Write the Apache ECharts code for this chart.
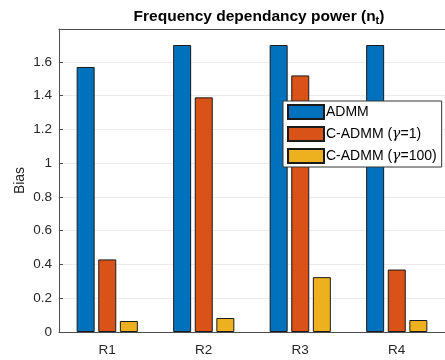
<!DOCTYPE html>
<html>
<head>
<meta charset="utf-8">
<script src="https://cdn.jsdelivr.net/npm/echarts@6/dist/echarts.min.js"></script>
<style>
  html, body { margin: 0; padding: 0; background: #fff; }
  #chart { width: 445px; height: 360px; }
</style>
</head>
<body>
<div id="chart"></div>
<script>
// values
var categories = ['R1', 'R2', 'R3', 'R4'];
var admm = [1.57, 1.70, 1.70, 1.70];
var cadmm1 = [0.43, 1.39, 1.52, 0.37];
var cadmm100 = [0.065, 0.083, 0.325, 0.071];
var seriesNames = ['ADMM', 'C-ADMM (γ=1)', 'C-ADMM (γ=100)'];
var seriesColors = ['#0072BD', '#D95319', '#EDB120'];

var myChart = echarts.init(document.getElementById('chart'));

function makeBar(name, values, color) {
    return {
        name: name,
        type: 'bar',
        data: values,
        barWidth: 18,
        barGap: '20%',
        itemStyle: {
            color: color,
            borderColor: '#1a1a1a',
            borderWidth: 1
        }
    };
}

myChart.setOption({
    animation: false,
    textStyle: { fontFamily: 'Liberation Sans, Arial, sans-serif' },
    title: {
        text: '{a|Frequency dependancy power (n}{s|t}{a|)}',
        left: 254,
        top: 2,
        textAlign: 'center',
        textStyle: {
            rich: {
                a: { fontSize: 15.5, fontWeight: 'bold', color: '#000', fontFamily: 'Liberation Sans' },
                s: { fontSize: 11, fontWeight: 'bold', color: '#000', fontFamily: 'Liberation Sans', padding: [8, 0, 0, 0] }
            }
        }
    },
    legend: {
        orient: 'vertical',
        left: 283,
        top: 101,
        padding: [3, 5, 3, 4],
        itemWidth: 36,
        itemHeight: 14,
        itemGap: 6,
        icon: 'rect',
        backgroundColor: '#fff',
        borderColor: '#333',
        borderWidth: 1,
        data: seriesNames,
        formatter: function (name) {
            return name.replace('γ', '{g|γ}');
        },
        textStyle: {
            fontSize: 14,
            color: '#000',
            fontFamily: 'Liberation Sans',
            padding: [0, 0, 0, -3],
            rich: {
                g: { fontSize: 14, fontStyle: 'italic', color: '#000', fontFamily: 'DejaVu Serif' }
            }
        }
    },
    grid: {
        left: 59,
        right: -6,
        top: 29,
        bottom: 28
    },
    xAxis: [
        {
            type: 'category',
            data: categories,
            axisLine: { lineStyle: { color: '#4d4d4d' } },
            axisTick: { inside: true, alignWithLabel: true, length: 4, lineStyle: { color: '#4d4d4d' } },
            axisLabel: { color: '#262626', fontSize: 13.5, margin: 11, fontFamily: 'Liberation Sans' }
        },
        {
            type: 'category',
            data: categories,
            position: 'top',
            axisLine: { lineStyle: { color: '#4d4d4d' } },
            axisTick: { inside: true, alignWithLabel: true, length: 4, lineStyle: { color: '#4d4d4d' } },
            axisLabel: { show: false }
        }
    ],
    yAxis: {
        type: 'value',
        min: 0,
        max: 1.795,
        interval: 0.2,
        name: 'Bias',
        nameLocation: 'middle',
        nameGap: 32,
        nameMoveOverlap: false,
        nameTextStyle: { fontSize: 14, color: '#262626', fontFamily: 'Liberation Sans' },
        axisLine: { show: true, lineStyle: { color: '#4d4d4d' } },
        axisTick: { show: true, inside: true, length: 4, lineStyle: { color: '#4d4d4d' } },
        axisLabel: {
            color: '#262626',
            fontSize: 13.5,
            margin: 7,
            fontFamily: 'Liberation Sans',
            showMaxLabel: false,
            formatter: function (v) { return Math.round(v * 10) / 10; }
        },
        splitLine: { show: true, lineStyle: { color: '#ebebeb' } }
    },
    series: [
        makeBar(seriesNames[0], admm, seriesColors[0]),
        makeBar(seriesNames[1], cadmm1, seriesColors[1]),
        makeBar(seriesNames[2], cadmm100, seriesColors[2])
    ]
});
</script>
</body>
</html>
